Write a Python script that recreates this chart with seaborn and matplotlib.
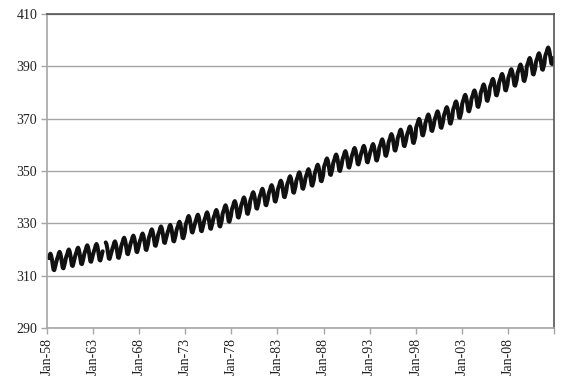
import numpy as np
import pandas as pd
import matplotlib
matplotlib.use("Agg")
import matplotlib.pyplot as plt
import seaborn as sns

# Annual means (ppm), 1958-2012
years = list(range(1958, 2013))
annual_mean = [
    315.3, 316.0, 316.9, 317.6, 318.5, 319.0, 319.6, 320.0, 321.4, 322.2,
    323.0, 324.6, 325.7, 326.3, 327.5, 329.7, 330.2, 331.1, 332.0, 333.8,
    335.4, 336.8, 338.8, 340.1, 341.5, 343.2, 344.9, 346.4, 347.6, 349.3,
    351.7, 353.2, 354.5, 355.7, 356.5, 357.2, 359.0, 361.0, 362.7, 363.9,
    366.8, 368.5, 369.7, 371.3, 373.5, 376.0, 377.7, 380.0, 382.1, 384.0,
    385.8, 387.6, 390.1, 391.9, 394.1,
]
# Seasonal swing around the annual mean, Jan..Dec (ppm)
month_offset = [-0.3, 0.7, 1.4, 2.6, 3.1, 2.4, 0.9, -1.2, -3.0, -3.2, -2.1, -0.9]
# Months with no record (the line breaks there)
missing = ["1958-01", "1958-02", "1964-02", "1964-03", "1964-04"]

tick_years = list(range(1958, 2014, 5))
tick_labels = ["Jan-58", "Jan-63", "Jan-68", "Jan-73", "Jan-78", "Jan-83",
               "Jan-88", "Jan-93", "Jan-98", "Jan-03", "Jan-08", ""]

rows = []
seg = 0
for y, m in zip(years, annual_mean):
    for k, off in enumerate(month_offset):
        d = pd.Timestamp(year=y, month=k + 1, day=15)
        if d.strftime("%Y-%m") in missing:
            seg += 1
            continue
        rows.append({"date": d, "co2": m + off, "seg": seg})
df = pd.DataFrame(rows)

sns.set_style("white")
plt.rcParams["font.family"] = ["Liberation Serif", "DejaVu Serif"]

fig = plt.figure(figsize=(5.7, 3.79), dpi=100)
ax = fig.add_axes([0.0825, 0.1346, 0.8895, 0.8284])

ax.yaxis.grid(True, color="#a6a6a6", linewidth=1.0)
ax.set_axisbelow(True)

sns.lineplot(data=df, x="date", y="co2", units="seg", ax=ax, color="#111111",
             linewidth=2.9, estimator=None)

ax.set_xlim(pd.Timestamp("1958-01-01"), pd.Timestamp("2013-01-01"))
ax.set_ylim(290, 410)
ax.set_yticks(range(290, 411, 20))
ax.set_xticks([pd.Timestamp(year=t, month=1, day=1) for t in tick_years])
ax.set_xticklabels(tick_labels, rotation=90)
ax.set_xlabel("")
ax.set_ylabel("")

for side in ["left", "bottom"]:
    ax.spines[side].set_color("#a6a6a6")
    ax.spines[side].set_linewidth(1.2)
for side in ["top", "right"]:
    ax.spines[side].set_color("#555555")
    ax.spines[side].set_linewidth(1.2)

ax.tick_params(axis="both", which="major", length=4, width=1, color="#a6a6a6",
               labelsize=10, labelcolor="#222222", left=True, bottom=True, pad=3)

fig.savefig("out.png", dpi=100)
